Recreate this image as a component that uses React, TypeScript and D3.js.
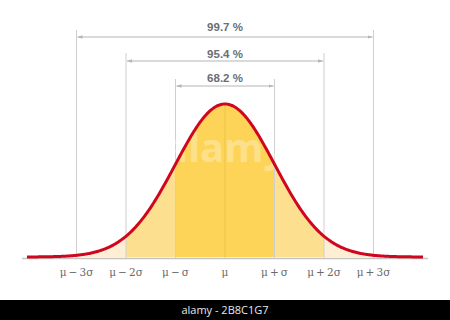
import React from "react";
import * as d3 from "d3";

const sigmaSteps = [-3, -2, -1, 0, 1, 2, 3];
const tickLabels = ["μ\u2009−\u20093σ", "μ\u2009−\u20092σ", "μ\u2009−\u2009σ", "μ", "μ\u2009+\u2009σ", "μ\u2009+\u20092σ", "μ\u2009+\u20093σ"];
const intervalWidths = [3, 2, 1];
const intervalPercents = ["99.7 %", "95.4 %", "68.2 %"];
const bandColors = ["#FEEFD4", "#FDE08F", "#FDD457"];

const W = 450;
const H = 320;

function pdf(z: number) {
  return Math.exp(-0.5 * z * z) / Math.sqrt(2 * Math.PI);
}

export default function App() {
  const x = d3.scaleLinear().domain([-4, 4]).range([27, 423]);
  const y = d3.scaleLinear().domain([0, pdf(0)]).range([257, 104]);
  const zs = d3.range(-4, 4.0001, 0.02);

  const area = (lo: number, hi: number) => {
    const pts = zs.filter((z) => z >= lo - 1e-9 && z <= hi + 1e-9);
    return d3
      .area<number>()
      .x((z) => x(z))
      .y0(y(0))
      .y1((z) => y(pdf(z)))(pts) as string;
  };
  const line = d3
    .line<number>()
    .x((z) => x(z))
    .y((z) => y(pdf(z)))
    .curve(d3.curveBasis)(zs) as string;

  const bracketY = [37, 61, 86];
  const labelY = [31, 58, 82];
  const vTop = [30, 53, 79];

  return (
    <svg width={W} height={H} style={{ position: "absolute", left: 0, top: 0 }}>
      <defs>
        <marker id="arr" viewBox="0 0 10 10" refX="10" refY="5" markerWidth="5" markerHeight="5" orient="auto-start-reverse">
          <path d="M0,1.5 L10,5 L0,8.5 z" fill="#b5b5b5" />
        </marker>
      </defs>
      <rect x={0} y={0} width={W} height={H} fill="#fff" />
      {intervalWidths.map((k, i) => (
        <path key={"b" + k} d={area(-k, k)} fill={bandColors[i]} />
      ))}
      {intervalWidths.map((k, i) => (
        <g key={"v" + k}>
          <line x1={x(-k)} x2={x(-k)} y1={vTop[i]} y2={258} stroke="#cfcfcf" strokeWidth={1} />
          <line x1={x(k)} x2={x(k)} y1={vTop[i]} y2={258} stroke="#cfcfcf" strokeWidth={1} />
          <line
            x1={x(-k) + 1}
            x2={x(k) - 1}
            y1={bracketY[i]}
            y2={bracketY[i]}
            stroke="#b5b5b5"
            strokeWidth={1}
            markerStart="url(#arr)"
            markerEnd="url(#arr)"
          />
          <text
            x={x(0)}
            y={labelY[i]}
            textAnchor="middle"
            fontFamily="Liberation Sans, Arial, sans-serif"
            fontSize={11.5}
            fontWeight={600}
            fill="#6b6e72"
          >
            {intervalPercents[i]}
          </text>
        </g>
      ))}
      <line x1={x(0)} x2={x(0)} y1={y(pdf(0))} y2={258} stroke="#e8c14a" strokeWidth={1} opacity={0.7} />
      <text
        x={x(0)}
        y={162}
        textAnchor="middle"
        fontFamily="Open Sans, sans-serif"
        fontSize={40}
        fontWeight={700}
        fill="#fff"
        opacity={0.3}
      >
        alamy
      </text>
      <line x1={22} x2={428} y1={258.5} y2={258.5} stroke="#c4c4c4" strokeWidth={1.5} />
      <path d={line} fill="none" stroke="#D0061E" strokeWidth={3} />
      {sigmaSteps.map((s, i) => (
        <text
          key={"t" + s}
          x={x(s)}
          y={276}
          textAnchor="middle"
          fontFamily="DejaVu Serif, serif"
          fontSize={10.5}
          fill="#6a6a6a"
        >
          {tickLabels[i]}
        </text>
      ))}
      <rect x={0} y={300} width={W} height={20} fill="#000" />
      <text x={W / 2} y={314} textAnchor="middle" fontFamily="Open Sans, sans-serif" fontSize={11} fill="#e8e8e8">
        alamy - 2B8C1G7
      </text>
    </svg>
  );
}
